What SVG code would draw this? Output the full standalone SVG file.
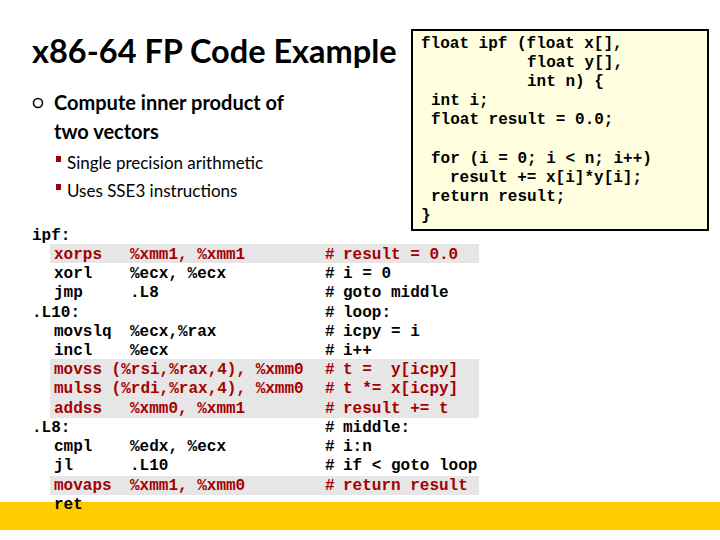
<svg xmlns="http://www.w3.org/2000/svg" width="720" height="540" viewBox="0 0 720 540" xml:space="preserve">
<style>
.c{font-family:"Liberation Mono",monospace;font-weight:bold;font-size:16px;white-space:pre}
.r{fill:#a50000}
.k{fill:#000}
.band{fill:#e6e6e6}
</style>
<rect width="720" height="540" fill="#fff"/>
<g id="title"><text x="32" y="63" font-family="Lato, 'Open Sans', sans-serif" font-weight="bold" font-size="32.5">x86-64 FP Code Example</text></g>
<g id="bullets" font-family="Lato, 'Open Sans', sans-serif">
<circle cx="38" cy="103" r="4.5" fill="none" stroke="#000" stroke-width="1.6"/>
<text x="54" y="110" font-size="20" font-weight="bold">Compute inner product of</text>
<text x="54" y="139" font-size="20" font-weight="bold">two vectors</text>
<rect x="56" y="156" width="5" height="6" fill="#a00000"/>
<text x="67" y="169" font-size="17">Single precision arithmetic</text>
<rect x="56" y="184" width="5" height="6" fill="#a00000"/>
<text x="67" y="197" font-size="17">Uses SSE3 instructions</text>
</g>
<g id="source">
<rect x="412" y="30" width="296" height="200" fill="#ffffe0" stroke="#000" stroke-width="2"/>
<text class="c k" font-size="15"><tspan x="421" y="48">float ipf (float x[],</tspan><tspan x="527" y="67">float y[],</tspan><tspan x="527" y="86">int n) {</tspan><tspan x="431" y="105">int i;</tspan><tspan x="431" y="124">float result = 0.0;</tspan><tspan x="431" y="163">for (i = 0; i &lt; n; i++)</tspan><tspan x="450" y="182">result += x[i]*y[i];</tspan><tspan x="431" y="201">return result;</tspan><tspan x="421" y="220">}</tspan></text>
</g>
<g id="bands">
<rect class="band" x="50" y="244" width="429" height="19"/>
<rect class="band" x="50" y="359" width="429" height="59"/>
<rect class="band" x="50" y="476" width="429" height="19"/>
</g>
<rect id="footer" x="0" y="502" width="720" height="28" fill="#ffcc00"/>
<g id="asm" class="c">
<text class="k" x="32" y="240">ipf:</text>
<text class="r" x="54" y="259">xorps</text><text class="r" x="130" y="259">%xmm1, %xmm1</text>
<text class="k" x="54" y="278">xorl</text><text class="k" x="130" y="278">%ecx, %ecx</text>
<text class="k" x="54" y="297">jmp</text><text class="k" x="130" y="297">.L8</text>
<text class="k" x="32" y="317">.L10:</text>
<text class="k" x="54" y="336">movslq</text><text class="k" x="130" y="336">%ecx,%rax</text>
<text class="k" x="54" y="355">incl</text><text class="k" x="130" y="355">%ecx</text>
<text class="r" x="54" y="374">movss (%rsi,%rax,4), %xmm0</text>
<text class="r" x="54" y="393">mulss (%rdi,%rax,4), %xmm0</text>
<text class="r" x="54" y="413">addss</text><text class="r" x="130" y="413">%xmm0, %xmm1</text>
<text class="k" x="32" y="432">.L8:</text>
<text class="k" x="54" y="451">cmpl</text><text class="k" x="130" y="451">%edx, %ecx</text>
<text class="k" x="54" y="470">jl</text><text class="k" x="130" y="470">.L10</text>
<text class="r" x="54" y="490">movaps</text><text class="r" x="130" y="490">%xmm1, %xmm0</text>
<text class="k" x="54" y="509">ret</text>
</g>
<g id="comments" class="c">
<text class="r" x="325" y="259">#</text><text class="r" x="343" y="259">result = 0.0</text>
<text class="k" x="325" y="278">#</text><text class="k" x="343" y="278">i = 0</text>
<text class="k" x="325" y="297">#</text><text class="k" x="343" y="297">goto middle</text>
<text class="k" x="325" y="317">#</text><text class="k" x="343" y="317">loop:</text>
<text class="k" x="325" y="336">#</text><text class="k" x="343" y="336">icpy = i</text>
<text class="k" x="325" y="355">#</text><text class="k" x="343" y="355">i++</text>
<text class="r" x="325" y="374">#</text><text class="r" x="343" y="374">t =&#160; y[icpy]</text>
<text class="r" x="325" y="393">#</text><text class="r" x="343" y="393">t *= x[icpy]</text>
<text class="r" x="325" y="413">#</text><text class="r" x="343" y="413">result += t</text>
<text class="k" x="325" y="432">#</text><text class="k" x="343" y="432">middle:</text>
<text class="k" x="325" y="451">#</text><text class="k" x="343" y="451">i:n</text>
<text class="k" x="325" y="470">#</text><text class="k" x="343" y="470">if &lt; goto loop</text>
<text class="r" x="325" y="490">#</text><text class="r" x="343" y="490">return result</text>
</g>
</svg>
